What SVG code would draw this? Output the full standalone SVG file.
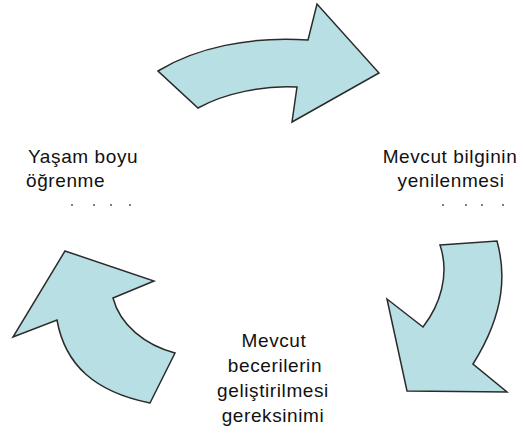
<svg xmlns="http://www.w3.org/2000/svg" width="523" height="441" viewBox="0 0 523 441">
<style>
.arrow{fill:#B8DFE3;stroke:#2b2b2b;stroke-width:1.5;stroke-linejoin:miter}
.t{font-family:"Liberation Sans",Arial,sans-serif;font-size:19px;fill:#111;letter-spacing:0.6px}
.c{text-anchor:middle}
.dot{fill:#555}
</style>
<rect width="523" height="441" fill="#fff"/>
<g id="connectors">
<path id="arrow-top" class="arrow" d="M158,71 C195,48 250,36 308,40 L317,4 L379,73 L292,122 L297,87 C265,85 225,93 198,108 Z"/>
<path id="arrow-right" class="arrow" d="M440,245 L497,241 C505,270 507,310 473,364 L507,392 L407,391 L387,299 L423,327 C440,305 450,275 440,245 Z"/>
<path id="arrow-left" class="arrow" d="M65,251 L154,281 L113,298 C120,325 145,345 175,353 L150,403 C95,392 65,365 57,320 L13,337 Z"/>
</g>
<g id="node-left">
<text class="t" x="28" y="163">Yaşam boyu</text>
<text class="t" x="26" y="187">öğrenme</text>
<circle class="dot" cx="72" cy="205" r="1"/>
<circle class="dot" cx="94" cy="205" r="1"/>
<circle class="dot" cx="111" cy="205" r="1"/>
<circle class="dot" cx="130" cy="205" r="1"/>
</g>
<g id="node-right">
<text class="t c" x="450" y="163">Mevcut bilginin</text>
<text class="t c" x="451" y="187">yenilenmesi</text>
<circle class="dot" cx="443" cy="205" r="1"/>
<circle class="dot" cx="466" cy="205" r="1"/>
<circle class="dot" cx="482" cy="205" r="1"/>
<circle class="dot" cx="503" cy="205" r="1"/>
</g>
<g id="node-bottom">
<text class="t c" x="274" y="347">Mevcut</text>
<text class="t c" x="275" y="372">becerilerin</text>
<text class="t c" x="273" y="397">geliştirilmesi</text>
<text class="t c" x="273" y="422">gereksinimi</text>
</g>
</svg>
